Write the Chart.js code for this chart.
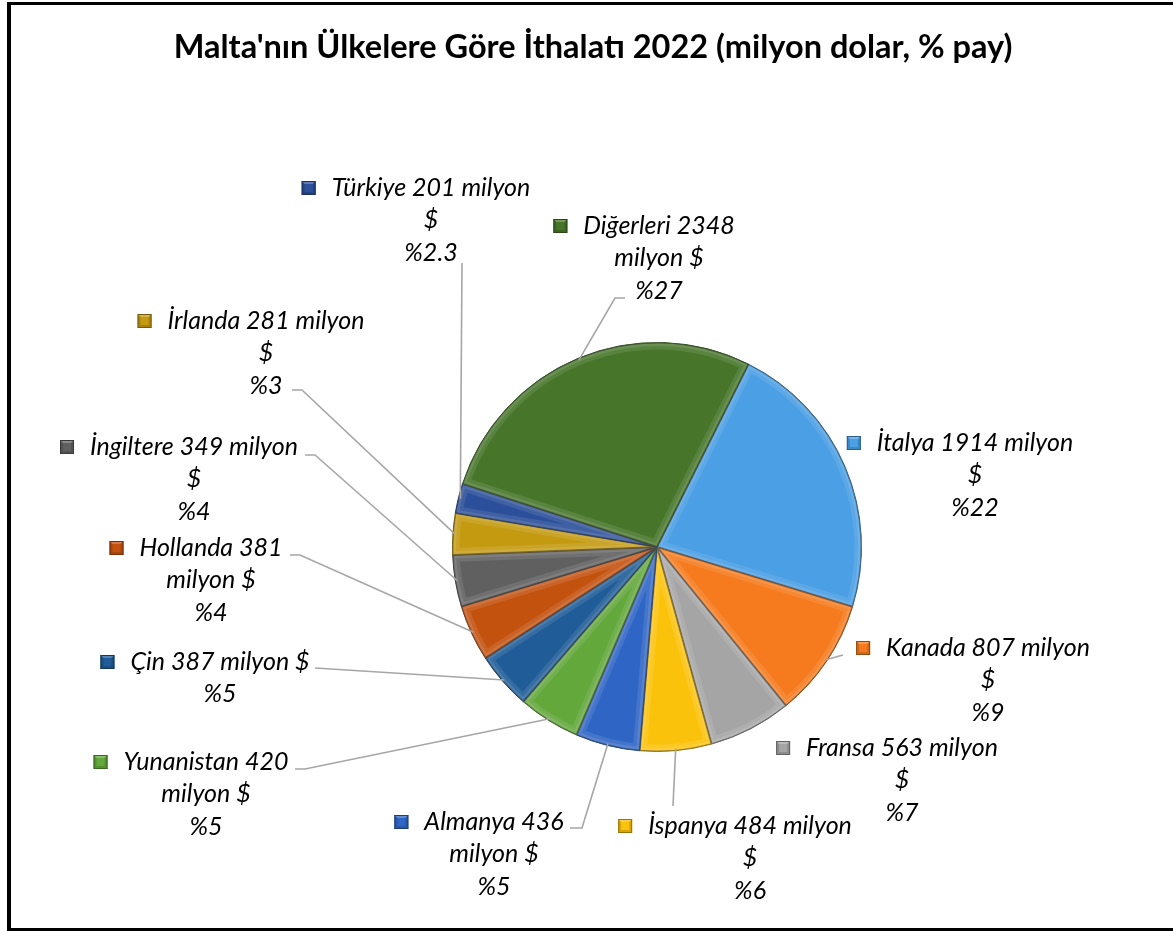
<!DOCTYPE html>
<html>
<head>
<meta charset="utf-8">
<script src="https://cdn.jsdelivr.net/npm/chart.js@4"></script>
<style>
  html, body { margin: 0; padding: 0; background: #ffffff; }
  #wrap { position: relative; width: 1173px; height: 931px; }
  canvas { display: block; }
</style>
</head>
<body>
<div id="wrap"><canvas id="c" width="1173" height="931"></canvas></div>
<script>
// ---- DATA ----
const countries = ["İtalya", "Kanada", "Fransa", "İspanya", "Almanya", "Yunanistan", "Çin", "Hollanda", "İngiltere", "İrlanda", "Türkiye", "Diğerleri"];
const importValues = [1914, 807, 563, 484, 436, 420, 387, 381, 349, 281, 201, 2348];
const shareLabels = ["%22", "%9", "%7", "%6", "%5", "%5", "%5", "%4", "%4", "%3", "%2.3", "%27"];
const titleText = "Malta'nın Ülkelere Göre İthalatı 2022 (milyon dolar, % pay)";

// ---- STYLE ----
const sliceColors = ["#4A9FE5", "#F57B1E", "#A5A5A5", "#FBC20C", "#2F66C6", "#63A83B",
                     "#1F5C98", "#C4520F", "#606060", "#C49A10", "#2B4F9A", "#47762A"];

// label text split into lines (how they wrap in the reference)
function labelLines(i) {
  const v = importValues[i], n = countries[i], p = shareLabels[i];
  const wraps = {
    0: [n + " " + v + " milyon", "$", p],
    1: [n + " " + v + " milyon", "$", p],
    2: [n + " " + v + " milyon", "$", p],
    3: [n + " " + v + " milyon", "$", p],
    4: [n + " " + v, "milyon $", p],
    5: [n + " " + v, "milyon $", p],
    6: [n + " " + v + " milyon $", p],
    7: [n + " " + v, "milyon $", p],
    8: [n + " " + v + " milyon", "$", p],
    9: [n + " " + v + " milyon", "$", p],
    10: [n + " " + v + " milyon", "$", p],
    11: [n + " " + v, "milyon $", p]
  };
  return wraps[i];
}

// label layout: text-block center x, first line center y, leader line start points
const labelLayout = [
  { cx: 975, y: 443, lead: null },
  { cx: 988, y: 648, lead: [[843, 655]] },
  { cx: 902, y: 748, lead: null },
  { cx: 750, y: 826, lead: [[673, 806]] },
  { cx: 494, y: 822, lead: [[570, 828], [582, 828]] },
  { cx: 206, y: 762, lead: [[295, 769], [305, 769]] },
  { cx: 220, y: 662, lead: [[315, 668]] },
  { cx: 211, y: 548, lead: [[290, 555], [300, 555]] },
  { cx: 194, y: 447, lead: [[305, 455], [315, 455]] },
  { cx: 266, y: 321, lead: [[292, 390], [302, 390]] },
  { cx: 431, y: 188, lead: [[462, 263]] },
  { cx: 659, y: 226, lead: [[625, 298], [615, 298]] }
];
const LINE_H = 32.3;
const LABEL_FONT = "italic 25px Lato";

function shade(hex, amt) {
  const n = parseInt(hex.slice(1), 16);
  let r = (n >> 16) & 255, g = (n >> 8) & 255, b = n & 255;
  const f = c => Math.max(0, Math.min(255, Math.round(amt >= 0 ? c + (255 - c) * amt : c * (1 + amt))));
  return "rgb(" + f(r) + "," + f(g) + "," + f(b) + ")";
}

const decorPlugin = {
  id: 'decor',
  beforeDraw(chart) {
    const ctx = chart.ctx;
    ctx.save();
    ctx.fillStyle = "#ffffff";
    ctx.fillRect(0, 0, chart.width, chart.height);
    // frame
    ctx.fillStyle = "#000000";
    ctx.fillRect(7, 2, 4, 931);
    ctx.fillRect(7, 2, 1166, 3);
    ctx.fillRect(7, 928, 1166, 3);
    // title
    ctx.font = "bold 32.5px Lato";
    ctx.textAlign = "center";
    ctx.textBaseline = "middle";
    ctx.fillStyle = "#000000";
    ctx.fillText(titleText, 593, 48);
    ctx.restore();
  },
  afterDatasetsDraw(chart) {
    const ctx = chart.ctx;
    const meta = chart.getDatasetMeta(0);
    // soft bevel effect on slices
    meta.data.forEach((arc, i) => {
      const { x, y, startAngle, endAngle, outerRadius } = arc.getProps(['x', 'y', 'startAngle', 'endAngle', 'outerRadius'], true);
      ctx.save();
      ctx.beginPath();
      ctx.moveTo(x, y);
      ctx.arc(x, y, outerRadius, startAngle, endAngle);
      ctx.closePath();
      ctx.clip();
      ctx.lineJoin = "round";
      ctx.strokeStyle = "rgba(255,255,255,0.10)";
      ctx.lineWidth = 14;
      ctx.stroke();
      ctx.strokeStyle = "rgba(255,255,255,0.10)";
      ctx.lineWidth = 7;
      ctx.stroke();
      ctx.strokeStyle = "rgba(0,0,0,0.30)";
      ctx.lineWidth = 2;
      ctx.stroke();
      ctx.restore();
    });
    // leader lines
    ctx.save();
    ctx.strokeStyle = "#A6A6A6";
    ctx.lineWidth = 1.6;
    meta.data.forEach((arc, i) => {
      const L = labelLayout[i];
      if (!L.lead) return;
      const { x, y, startAngle, endAngle, outerRadius } = arc.getProps(['x', 'y', 'startAngle', 'endAngle', 'outerRadius'], true);
      const mid = (startAngle + endAngle) / 2;
      const ex = x + Math.cos(mid) * (outerRadius - 2);
      const ey = y + Math.sin(mid) * (outerRadius - 2);
      ctx.beginPath();
      ctx.moveTo(L.lead[0][0], L.lead[0][1]);
      for (let k = 1; k < L.lead.length; k++) ctx.lineTo(L.lead[k][0], L.lead[k][1]);
      ctx.lineTo(ex, ey);
      ctx.stroke();
    });
    ctx.restore();
    // labels
    ctx.save();
    ctx.font = LABEL_FONT;
    ctx.textAlign = "center";
    ctx.textBaseline = "middle";
    countries.forEach((c, i) => {
      const L = labelLayout[i];
      const lines = labelLines(i);
      ctx.fillStyle = "#000000";
      lines.forEach((t, k) => ctx.fillText(t, L.cx, L.y + k * LINE_H));
      // marker
      const w1 = ctx.measureText(lines[0]).width;
      const mx = L.cx - w1 / 2 - 16 - 14, my = L.y - 7, s = 14;
      const col = sliceColors[i];
      ctx.fillStyle = shade(col, -0.15);
      ctx.fillRect(mx, my, s, s);
      ctx.fillStyle = shade(col, 0.25);
      ctx.beginPath();
      ctx.moveTo(mx, my); ctx.lineTo(mx + s, my); ctx.lineTo(mx + s / 2, my + s / 2); ctx.closePath();
      ctx.fill();
      ctx.fillStyle = col;
      ctx.fillRect(mx + 3, my + 3, s - 6, s - 6);
      ctx.strokeStyle = shade(col, -0.4);
      ctx.lineWidth = 1;
      ctx.strokeRect(mx + 0.5, my + 0.5, s - 1, s - 1);
    });
    ctx.restore();
  }
};

new Chart(document.getElementById('c'), {
  type: 'pie',
  data: {
    labels: countries,
    datasets: [{
      data: importValues,
      backgroundColor: sliceColors,
      borderColor: sliceColors.map(c => shade(c, -0.35)),
      borderWidth: 1
    }]
  },
  options: {
    responsive: false,
    animation: false,
    events: [],
    rotation: 26.6,
    layout: { padding: { left: 452, right: 311, top: 342, bottom: 179 } },
    plugins: {
      legend: { display: false },
      tooltip: { enabled: false },
      title: { display: false }
    }
  },
  plugins: [decorPlugin]
});
</script>
</body>
</html>
